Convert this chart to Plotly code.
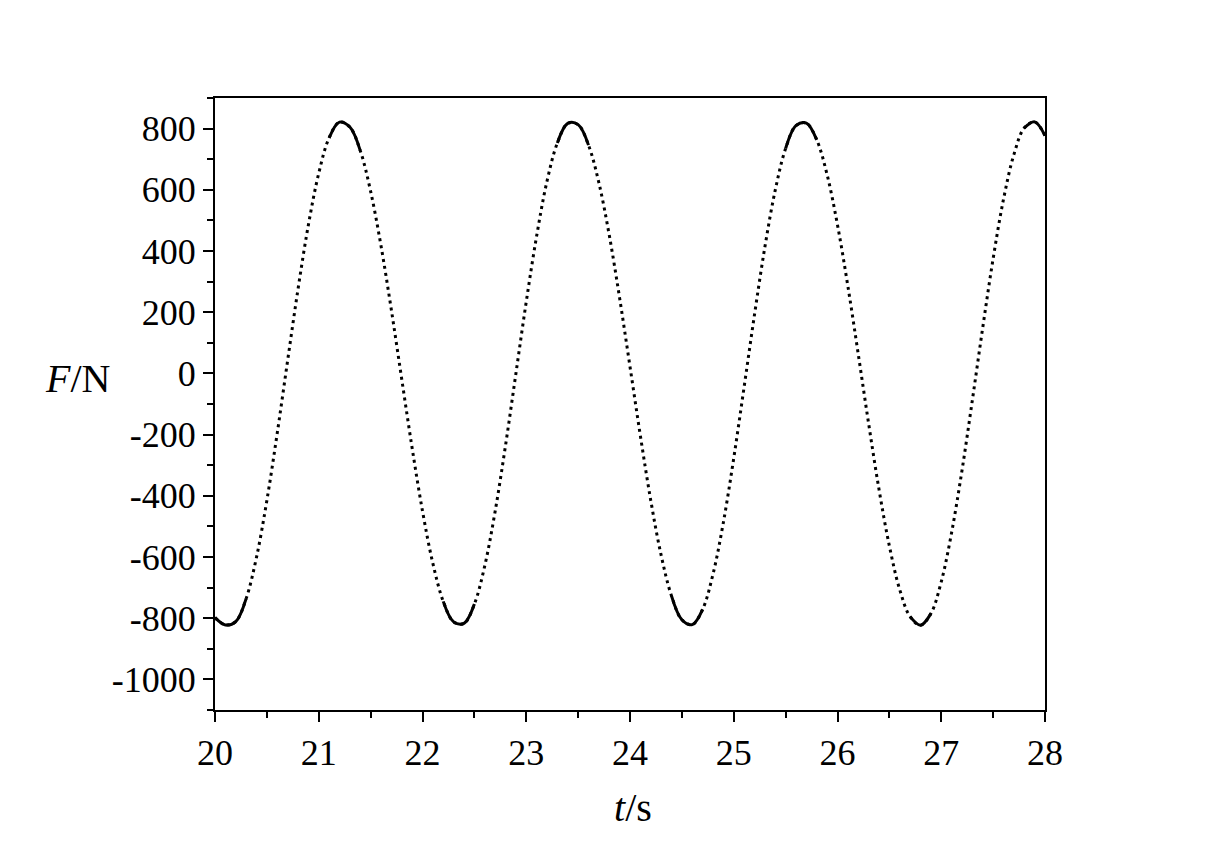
import plotly.graph_objects as go

# time samples (s) and force readings (N)
t = [round(20 + 0.1 * i, 1) for i in range(81)]
F = [
    -798, -822, -811, -736, -601, -415, -195, 42, 275, 485,      # 20.0 - 20.9
    654, 770, 821, 805, 728, 595, 417, 207, -19, -244,            # 21.0 - 21.9
    -450, -621, -745, -812, -817, -754, -629, -451, -236, -1,     # 22.0 - 22.9
    234, 449, 628, 753, 817, 813, 746, 623, 452, 246,             # 23.0 - 23.9
    22, -204, -415, -594, -727, -805, -821, -771, -656, -487,     # 24.0 - 24.9
    -277, -44, 192, 413, 599, 735, 810, 818, 763, 649,            # 25.0 - 25.9
    485, 285, 63, -164, -379, -564, -707, -795, -823, -785,       # 26.0 - 26.9
    -681, -520, -317, -87, 150, 375, 569, 715, 802, 822,          # 27.0 - 27.9
    777,                                                          # 28.0
]

x_ticks = [20, 21, 22, 23, 24, 25, 26, 27, 28]
x_ticklabels = ["20", "21", "22", "23", "24", "25", "26", "27", "28"]
y_ticks = [-1000, -800, -600, -400, -200, 0, 200, 400, 600, 800]
y_ticklabels = ["-1000", "-800", "-600", "-400", "-200", "0", "200", "400", "600", "800"]

# near the extremes the sampled dots merge into a solid line
F_solid = [v if abs(v) >= 720 else None for v in F]

font_family = "Liberation Serif, Times New Roman, serif"

fig = go.Figure()
fig.add_trace(go.Scatter(
    x=t, y=F, mode="lines",
    line=dict(color="black", width=3, dash="3px,4px", shape="spline"),
    showlegend=False, hoverinfo="skip",
))
fig.add_trace(go.Scatter(
    x=t, y=F_solid, mode="lines", connectgaps=False,
    line=dict(color="black", width=3, shape="spline"),
    showlegend=False, hoverinfo="skip",
))

axis_common = dict(
    showline=True, linecolor="black", linewidth=2, mirror=True,
    ticks="outside", ticklen=10, tickwidth=2, tickcolor="black",
    showgrid=False, zeroline=False,
    tickfont=dict(family=font_family, size=36, color="black"),
)

fig.update_xaxes(
    range=[20, 28], tickvals=x_ticks, ticktext=x_ticklabels,
    minor=dict(ticks="outside", ticklen=6, tickwidth=2, tickcolor="black", dtick=0.5, tick0=20, showgrid=False),
    **axis_common,
)
fig.update_yaxes(
    range=[-1100, 900], tickvals=y_ticks, ticktext=y_ticklabels,
    minor=dict(ticks="outside", ticklen=6, tickwidth=2, tickcolor="black", dtick=100, tick0=0, showgrid=False),
    **axis_common,
)

fig.add_annotation(
    text="<i>F</i>/N", xref="paper", yref="y", x=0, y=0,
    xanchor="right", yanchor="middle", xshift=-103, yshift=-5,
    showarrow=False, font=dict(family=font_family, size=40, color="black"),
)
fig.add_annotation(
    text="<i>t</i>/s", xref="paper", yref="paper", x=0.5, y=0,
    xanchor="center", yanchor="middle", xshift=3, yshift=-97,
    showarrow=False, font=dict(family=font_family, size=40, color="black"),
)

fig.update_layout(
    width=1212, height=851,
    margin=dict(l=207, r=175, t=90, b=149),
    paper_bgcolor="white", plot_bgcolor="white",
)

fig.write_html("out.html")
